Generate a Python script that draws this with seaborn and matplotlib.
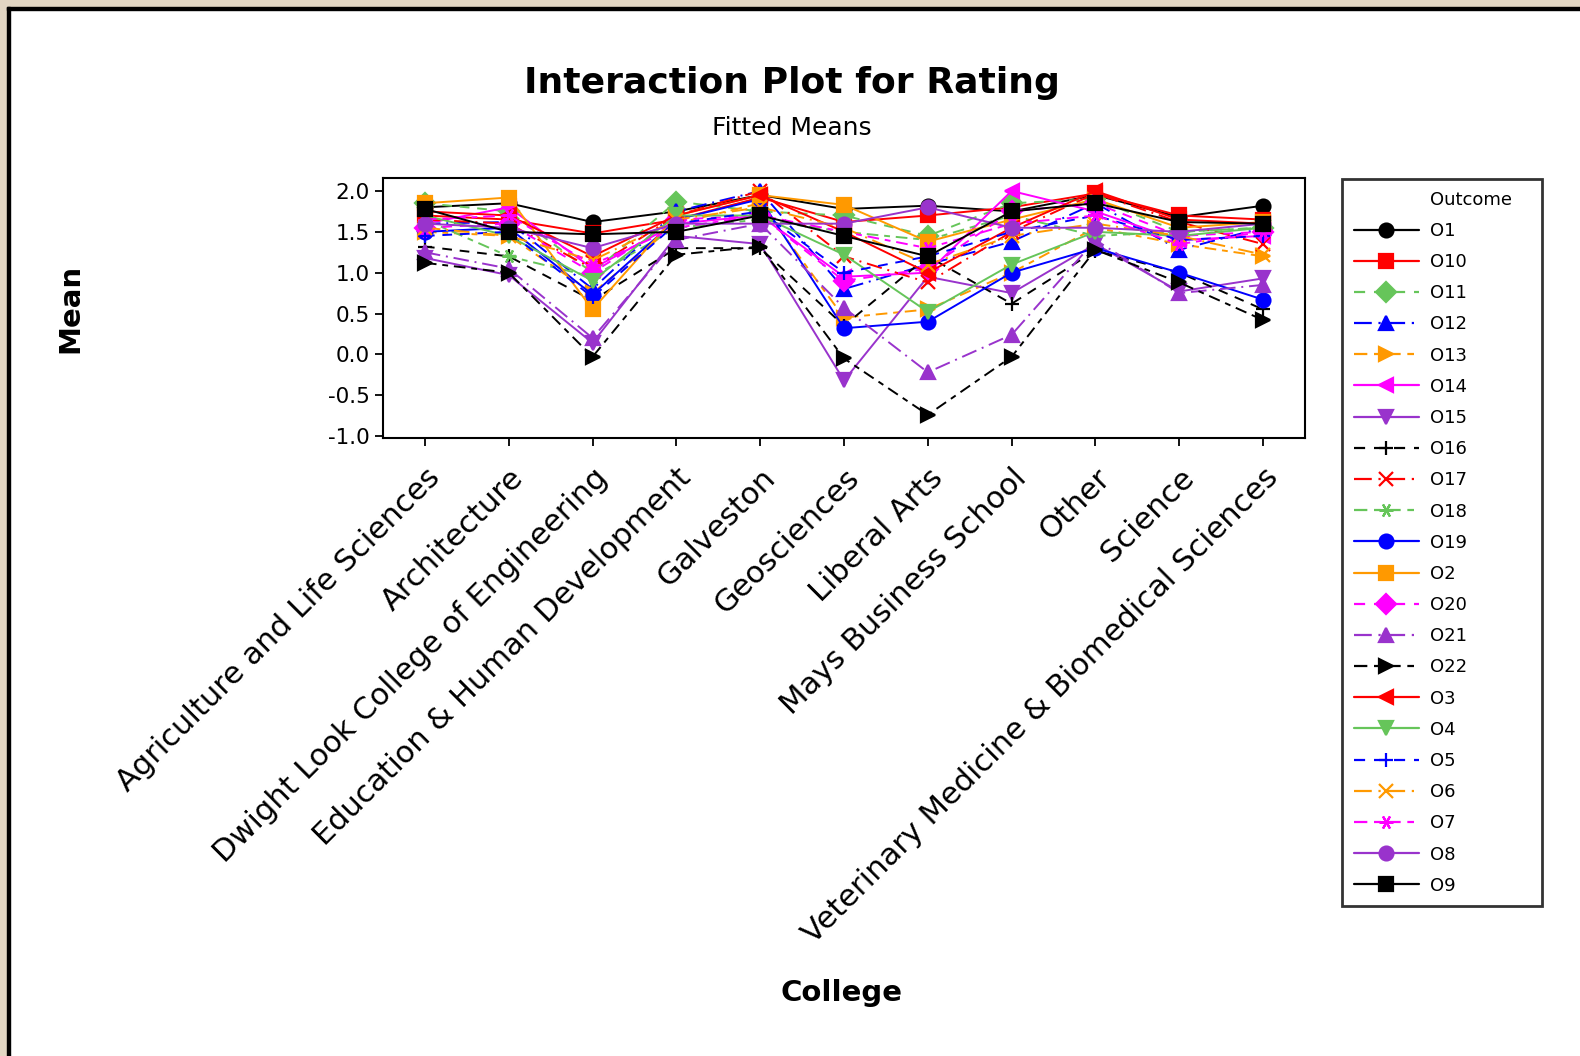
import numpy as np
import pandas as pd
import matplotlib
matplotlib.use("Agg")
import matplotlib.pyplot as plt
import seaborn as sns
from matplotlib.lines import Line2D
from matplotlib.patches import Rectangle

sns.set_style("ticks")
plt.rcParams['font.family'] = ['DejaVu Sans']
plt.rcParams['text.color'] = 'black'
plt.rcParams['xtick.color'] = 'black'
plt.rcParams['ytick.color'] = 'black'

colleges = ["Agriculture and Life Sciences", "Architecture",
            "Dwight Look College of Engineering", "Education & Human Development",
            "Galveston", "Geosciences", "Liberal Arts", "Mays Business School",
            "Other", "Science", "Veterinary Medicine & Biomedical Sciences"]

# fitted means, one list per outcome
o1 = [1.80, 1.85, 1.62, 1.75, 1.95, 1.78, 1.82, 1.75, 1.95, 1.68, 1.82]
o10 = [1.70, 1.65, 1.48, 1.65, 1.92, 1.62, 1.70, 1.80, 1.97, 1.70, 1.65]
o11 = [1.85, 1.75, 1.00, 1.87, 1.75, 1.70, 1.45, 1.85, 1.90, 1.50, 1.55]
o12 = [1.60, 1.62, 0.80, 1.75, 2.00, 0.80, 1.10, 1.38, 1.85, 1.28, 1.55]
o13 = [1.50, 1.45, 0.75, 1.60, 1.85, 0.45, 0.55, 1.00, 1.55, 1.35, 1.20]
o14 = [1.60, 1.80, 1.05, 1.60, 1.70, 0.95, 1.00, 2.00, 1.75, 1.40, 1.45]
o15 = [1.18, 0.97, 0.14, 1.45, 1.35, -0.32, 0.95, 0.75, 1.35, 0.77, 0.93]
o16 = [1.32, 1.20, 0.66, 1.30, 1.30, 0.35, 1.20, 0.62, 1.27, 1.00, 0.55]
o17 = [1.65, 1.60, 1.05, 1.70, 2.00, 1.20, 0.88, 1.50, 1.97, 1.62, 1.35]
o18 = [1.65, 1.20, 0.95, 1.55, 1.65, 1.50, 1.40, 1.70, 1.45, 1.50, 1.55]
o19 = [1.50, 1.55, 0.73, 1.65, 1.90, 0.32, 0.40, 1.00, 1.30, 1.00, 0.67]
o2 = [1.85, 1.92, 0.55, 1.70, 1.95, 1.83, 1.38, 1.65, 1.90, 1.55, 1.62]
o20 = [1.55, 1.60, 1.00, 1.65, 1.70, 0.90, 1.05, 1.75, 1.85, 1.45, 1.50]
o21 = [1.25, 1.05, 0.20, 1.40, 1.60, 0.57, -0.22, 0.24, 1.40, 0.75, 0.85]
o22 = [1.12, 1.00, -0.03, 1.22, 1.32, -0.05, -0.74, -0.03, 1.28, 0.88, 0.42]
o3 = [1.75, 1.70, 1.20, 1.70, 1.95, 1.50, 1.00, 1.55, 2.00, 1.65, 1.60]
o4 = [1.70, 1.45, 0.90, 1.70, 1.70, 1.22, 0.52, 1.10, 1.50, 1.45, 1.55]
o5 = [1.45, 1.50, 0.70, 1.60, 1.75, 1.00, 1.20, 1.50, 1.70, 1.40, 1.45]
o6 = [1.55, 1.45, 1.15, 1.65, 1.80, 1.55, 1.10, 1.45, 1.60, 1.45, 1.22]
o7 = [1.65, 1.70, 1.10, 1.55, 1.70, 1.50, 1.30, 1.60, 1.70, 1.35, 1.50]
o8 = [1.60, 1.55, 1.30, 1.60, 1.60, 1.60, 1.80, 1.55, 1.55, 1.50, 1.60]
o9 = [1.78, 1.50, 1.47, 1.50, 1.70, 1.45, 1.20, 1.75, 1.85, 1.62, 1.60]

outcomes = ["O1", "O10", "O11", "O12", "O13", "O14", "O15", "O16", "O17", "O18", "O19",
            "O2", "O20", "O21", "O22", "O3", "O4", "O5", "O6", "O7", "O8", "O9"]
series = [o1, o10, o11, o12, o13, o14, o15, o16, o17, o18, o19,
          o2, o20, o21, o22, o3, o4, o5, o6, o7, o8, o9]

rows = []
for name, vals in zip(outcomes, series):
    for i, v in enumerate(vals):
        rows.append({"Outcome": name, "pos": i, "College": colleges[i], "Mean": v})
df = pd.DataFrame(rows)

# Minitab style cycles
colors = ["black", "#ff0000", "#66c55a", "#0000ff", "#ff9900", "#ff00ff", "#9933cc"]
markers = ["o", "s", "D", "^", ">", "<", "v", "+", "x", (6, 2, 90)]
styles = ["-", "-", (0, (5, 4)), (0, (8, 3, 1, 3)), (0, (6, 3, 3, 3))]

fig = plt.figure(figsize=(15.8, 10.56), dpi=100)
ax = fig.add_axes([383 / 1580, 1 - 438 / 1056, 922 / 1580, 260 / 1056])

handles = [Line2D([], [], color="none")]
labels = ["Outcome"]
for k, name in enumerate(outcomes):
    c = colors[k % 7]
    m = markers[k % 10]
    ls = styles[k % 5]
    sub = df[df["Outcome"] == name]
    sns.lineplot(data=sub, x="pos", y="Mean", ax=ax, color=c, marker=m,
                 linestyle=ls, linewidth=1.4, markersize=10,
                 markeredgecolor=c, markeredgewidth=1.6, sort=False,
                 legend=False)
    handles.append(Line2D([], [], color=c, marker=m, linestyle=ls, linewidth=1.6,
                          markersize=10, markeredgecolor=c, markeredgewidth=1.6))
    labels.append(name)

ax.set_xlim(-0.5, 10.5)
ax.set_ylim(-1.024, 2.159)
ax.set_yticks(np.arange(-1.0, 2.01, 0.5))
ax.set_yticklabels([f"{v:.1f}" for v in np.arange(-1.0, 2.01, 0.5)], fontsize=15.5)
ax.set_xticks(range(len(colleges)))
ax.set_xticklabels(colleges, rotation=45, ha="right", rotation_mode="anchor", fontsize=22)
ax.tick_params(axis="both", direction="out", length=6, width=1.3, color="black")
ax.tick_params(axis="x", pad=12)
ax.set_xlabel("")
ax.set_ylabel("")
for sp in ax.spines.values():
    sp.set_visible(True)
    sp.set_linewidth(1.5)
    sp.set_color("black")

leg = ax.legend(handles, labels, loc="upper left",
                bbox_to_anchor=(1342 / 1580, 1 - 179 / 1056 - 0.01, 200 / 1580, 0.01),
                bbox_transform=fig.transFigure, mode="expand", frameon=True,
                fancybox=False, fontsize=13, handlelength=3.6, labelspacing=0.73,
                handletextpad=0.6, borderpad=0.65, borderaxespad=0)
leg.get_frame().set_edgecolor("black")
leg.get_frame().set_linewidth(2)

fig.text(792 / 1580, 1 - 83 / 1056, "Interaction Plot for Rating", ha="center",
         va="center", fontsize=26, fontweight="bold")
fig.text(792 / 1580, 1 - 128 / 1056, "Fitted Means", ha="center", va="center", fontsize=18)
fig.text(70 / 1580, 1 - 308 / 1056, "Mean", rotation=90, ha="center", va="center",
         fontsize=21, fontweight="bold")
fig.text(842 / 1580, 1 - 993 / 1056, "College", ha="center", va="center",
         fontsize=21, fontweight="bold")

# window frame: beige strip with dark edge on top and left
W, H = 1580, 1056
fig.add_artist(Rectangle((0, 0), 7 / W, 1, transform=fig.transFigure, color="#e2d6c3", zorder=0))
fig.add_artist(Rectangle((0, 1 - 7 / H), 1, 7 / H, transform=fig.transFigure, color="#e2d6c3", zorder=0))
fig.add_artist(Rectangle((7 / W, 0), 3 / W, 1 - 7 / H, transform=fig.transFigure, color="black", zorder=0))
fig.add_artist(Rectangle((7 / W, 1 - 10 / H), 1, 3 / H, transform=fig.transFigure, color="black", zorder=0))

fig.savefig("out.png", dpi=100, facecolor="white")
